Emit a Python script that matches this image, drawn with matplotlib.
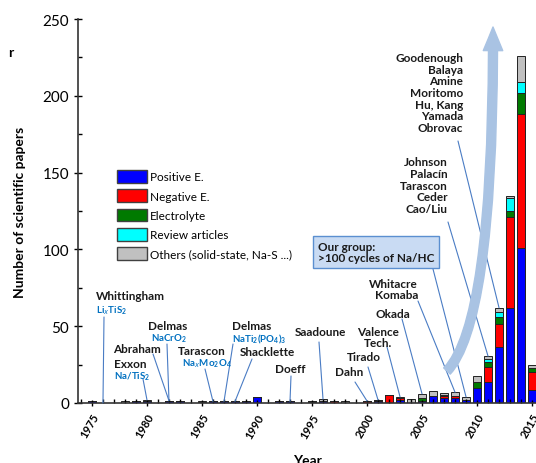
import numpy as np
import matplotlib
matplotlib.use("Agg")
from matplotlib import pyplot as plt
from matplotlib.patches import FancyArrowPatch
from matplotlib.path import Path
from matplotlib.ticker import MultipleLocator

plt.rcParams['font.family'] = ['Lato', 'DejaVu Sans']
plt.rcParams['mathtext.fontset'] = 'custom'
plt.rcParams['mathtext.rm'] = 'Lato:bold'
plt.rcParams['mathtext.bf'] = 'Lato:bold'

# --------- DATA (papers per year) ---------
years = np.arange(1975, 2016)
positive = [1, 0, 0, 0, 1, 1, 0, 1, 1, 0,
            0.5, 1, 1, 1, 1, 4, 0, 1, 1, 0,
            0.5, 1.5, 0, 0, 0, 0, 1, 0, 2, 0,
            1, 4.5, 3, 3, 2, 10, 13.5, 36.5, 62, 101, 8.5]
negative = [0, 0, 0, 0, 0, 0, 0, 0, 0, 0,
            0, 0, 0, 0, 0, 0, 0, 0, 0, 0,
            0, 0, 1, 0, 0, 1.3, 1, 5.5, 1, 0,
            0.5, 0, 1.5, 1.5, 0, 0, 10, 15, 59, 87, 11.5]
electrolyte = [0, 0, 0, 0, 0, 0, 0, 0.5, 0, 0,
               0, 0, 0, 0, 0, 0, 0, 0, 0, 0,
               0.5, 0, 0, 0, 0, 0, 0, 0, 0, 0,
               1.5, 0, 1, 0, 0, 3.5, 3, 4.5, 4, 14, 2.5]
review = [0, 0, 0, 0, 0, 0, 0, 0, 0, 0,
          0, 0, 0, 0, 0, 0, 0, 0, 0, 0,
          0, 0, 0, 0, 0, 0, 0, 0, 0, 0,
          0, 0, 0, 0, 0, 0, 2, 3, 8.5, 7, 0.5]
others = [0, 0, 0, 1, 0, 1, 0, 0, 0, 0,
          1, 0, 0, 0, 0, 0, 0, 0, 0, 0,
          0.3, 1, 0, 1, 0, 0, 0, 0, 1, 2.5,
          3, 3, 1, 2.5, 2, 4, 2, 3, 1.5, 17, 1.5]

series = [positive, negative, electrolyte, review, others]
names = ["Positive E.", "Negative E.", "Electrolyte", "Review articles",
         "Others (solid-state, Na-S ...)"]
colors = ["#0000ff", "#ff0000", "#007a00", "#00ffff", "#c0c0c0"]

# ---------------------------------------------------------------

W, H = 536, 464

# pixel position in the picture -> figure fraction
def px(x, y):
    return (x / W, 1 - y / H)

fig = plt.figure(figsize=(W / 100, H / 100), dpi=100)
ax = fig.add_axes([78 / W, 1 - 404 / H, (W - 78) / W, 384 / H])

bottom = np.zeros(len(years))
for vals, name, c in zip(series, names, colors):
    vals = np.array(vals, dtype=float)
    ax.bar(years, vals, bottom=bottom, width=0.8, color=c,
           edgecolor="#222222", linewidth=0.7, label=name)
    bottom += vals
totals = dict(zip(years, bottom))

ax.set_xlim(1973.73, 2015.36)
ax.set_ylim(0, 250)
ax.spines['top'].set_visible(False)
ax.spines['right'].set_visible(False)
for s in ('left', 'bottom'):
    ax.spines[s].set_linewidth(1.2)
    ax.spines[s].set_color("#333333")

ax.xaxis.set_major_locator(MultipleLocator(5))
ax.xaxis.set_minor_locator(MultipleLocator(1))
ax.yaxis.set_major_locator(MultipleLocator(50))
ax.yaxis.set_minor_locator(MultipleLocator(25))
ax.tick_params(axis='x', which='major', direction='inout', length=5, width=1)
ax.tick_params(axis='x', which='minor', direction='in', length=3, width=1)
ax.tick_params(axis='y', which='major', direction='inout', length=6, width=1, labelsize=11)
ax.tick_params(axis='y', which='minor', direction='in', length=3, width=1)
for lab in ax.get_xticklabels():
    lab.set_rotation(60)
    lab.set_ha('right')
    lab.set_rotation_mode('anchor')
    lab.set_fontweight('bold')
    lab.set_fontsize(8)

ax.set_ylabel("Number of scientific papers", fontsize=10, fontweight='bold')
ax.yaxis.set_label_coords(-0.113, 0.5)
ax.set_xlabel("Year", fontsize=10, fontweight='bold')
ax.xaxis.set_label_coords(0.5, -0.132)

# legend
leg = ax.legend(loc='upper left', bbox_to_anchor=px(117, 171), bbox_transform=fig.transFigure,
                frameon=False, fontsize=8.5, handlelength=2.5, handleheight=1.27,
                labelspacing=0.57, handletextpad=0.3, borderpad=0, borderaxespad=0)
for h in leg.legend_handles:
    h.set_edgecolor("#404040")
    h.set_linewidth(1)

# big curved arrow
p0, p1, p2 = px(447, 372), px(494, 322), px(493, 28)
arrow = FancyArrowPatch(path=Path([p0, p1, p2], [Path.MOVETO, Path.CURVE3, Path.CURVE3]),
                        arrowstyle="simple,head_width=14,head_length=17,tail_width=6.5",
                        color="#a9c3e3", transform=fig.transFigure, zorder=1.5)
fig.patches.append(arrow)

# annotation labels
name_kw = dict(fontsize=8.5, fontweight='bold', color="#1a1a1a", va='center')
chem_kw = dict(fontsize=7, fontweight='bold', color="#0070c0", va='center')
labels = [
    ("Whittingham", 96, 297, 'left', name_kw),
    (r"Li$_x$TiS$_2$", 96, 311, 'left', chem_kw),
    ("Delmas", 148, 327, 'left', name_kw),
    (r"NaCrO$_2$", 151, 339, 'left', chem_kw),
    ("Abraham", 113, 350, 'left', name_kw),
    ("Exxon", 114, 365, 'left', name_kw),
    (r"Na/TiS$_2$", 114, 377, 'left', chem_kw),
    ("Tarascon", 178, 352, 'left', name_kw),
    (r"Na$_x$Mo$_2$O$_4$", 182, 364, 'left', chem_kw),
    ("Delmas", 232, 327, 'left', name_kw),
    (r"NaTi$_2$(PO$_4$)$_3$", 232, 339, 'left', chem_kw),
    ("Shacklette", 240, 353, 'left', name_kw),
    ("Doeff", 275, 370, 'left', name_kw),
    ("Saadoune", 295, 333, 'left', name_kw),
    ("Valence\nTech.", 378, 338, 'center', name_kw),
    ("Tirado", 347, 358, 'left', name_kw),
    ("Dahn", 335, 373, 'left', name_kw),
    ("Okada", 375, 315, 'left', name_kw),
    ("Whitacre\nKomaba", 418, 290, 'right', name_kw),
    ("Johnson\nPalacín\nTarascon\nCeder\nCao/Liu", 448, 186, 'right', name_kw),
    ("Goodenough\nBalaya\nAmine\nMoritomo\nHu, Kang\nYamada\nObrovac", 463, 93.5, 'right', name_kw),
]
for txt, x, y, ha, kw in labels:
    fig.text(*px(x, y), txt, ha=ha, multialignment=ha, linespacing=1.08, **kw)

fig.text(*px(318, 253), "Our group:\n>100 cycles of Na/HC", ha='left', va='center',
         fontsize=8.5, fontweight='bold', color="#1a1a1a", linespacing=1.1,
         bbox=dict(boxstyle='square,pad=0.4', fc="#c9dbf3", ec="#5b8fd0", lw=1))

fig.text(*px(8, 53), "r", fontsize=10, fontweight='bold', va='center')

# leader lines: start near label -> top of the bar of that year
leaders = [
    (104, 318, 1976), (167, 345, 1982), (153, 355, 1982), (143, 380, 1980),
    (205, 370, 1986), (233, 345, 1987), (252, 360, 1988), (291, 377, 1993),
    (319, 343, 1996), (387, 348, 2003), (368, 368, 2001), (355, 383, 2000),
    (402, 320, 2005), (418, 302, 2008), (433, 270, 2009), (448, 223, 2011),
    (458, 142, 2012),
]
for x, y, yr in leaders:
    ax.annotate("", xy=(yr, totals[yr]), xycoords='data', xytext=px(x, y),
                textcoords='figure fraction',
                arrowprops=dict(arrowstyle='-', color="#4a7cc4", lw=0.8,
                                shrinkA=0, shrinkB=0), zorder=3, annotation_clip=False)

fig.savefig("out.png", dpi=100)
